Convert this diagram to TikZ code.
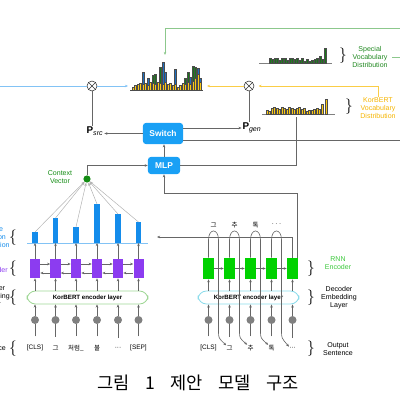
\documentclass[tikz,border=0pt]{standalone}
\usepackage{fontspec}
\setmainfont{Liberation Sans}
\newfontfamily\kr{Noto Sans CJK KR}
\usetikzlibrary{arrows.meta}

\definecolor{swblue}{RGB}{25,160,245}
\definecolor{attblue}{RGB}{20,140,235}
\definecolor{hblue}{RGB}{30,110,190}
\definecolor{hgreen}{RGB}{25,120,25}
\definecolor{vyellow}{RGB}{250,200,20}
\definecolor{vorange}{RGB}{245,180,0}
\definecolor{sgreen}{RGB}{30,135,30}
\definecolor{encpurple}{RGB}{140,60,240}
\definecolor{rnngreen}{RGB}{0,210,0}
\definecolor{lgreen}{RGB}{60,200,60}
\definecolor{layergreen}{RGB}{160,215,150}
\definecolor{layercyan}{RGB}{140,220,235}
\definecolor{topgreen}{RGB}{140,200,140}
\definecolor{lineblue}{RGB}{130,195,245}
\definecolor{lineyellow}{RGB}{250,205,70}
\definecolor{ctxgreen}{RGB}{20,140,20}

\tikzset{
  arr/.style={-{Stealth[length=2.2pt,width=1.8pt]}},
  ln/.style={draw=black!60, line width=0.45pt},
  lbl/.style={font=\fontsize{5}{5.7}\selectfont, align=center, inner sep=0pt},
  brc/.style={font=\fontsize{11}{11}\selectfont, inner sep=0pt},
  tok/.style={font=\fontsize{4.6}{5}\selectfont, inner sep=0pt},
  bluebox/.style={fill=swblue, rounded corners=2pt, text=white, font=\fontsize{6}{7}\selectfont\bfseries, inner sep=0pt},
  mul/.style={draw=black!80, circle, minimum size=0.25cm, inner sep=0pt, line width=0.4pt},
  encbox/.style={fill=encpurple, minimum width=0.25cm, minimum height=0.475cm, inner sep=0pt},
  decbox/.style={fill=rnngreen, minimum width=0.275cm, minimum height=0.525cm, inner sep=0pt},
  tokdot/.style={circle, fill=black!50, minimum size=0.2cm, inner sep=0pt},
  layer/.style={rounded corners=6pt, minimum height=0.325cm, line width=0.6pt, font=\fontsize{4.4}{5}\selectfont\bfseries, inner sep=0pt},
  bar/.style={draw=black!70, line width=0.15pt}
}
\newcommand\mulcross[1]{\draw[black!80, line width=0.4pt] (#1.45) -- (#1.225) (#1.135) -- (#1.315);}

\begin{document}
\begin{tikzpicture}[x=0.025cm, y=-0.025cm]
\clip (0,0) rectangle (400,400);

% mixed output distribution
\draw[black!70, line width=0.5pt] (130,90) -- (203,90);
\foreach \x/\t/\c in {143/72/hblue, 148/78/hblue, 153/75/hgreen, 155.5/74/hgreen, 160.5/67/hgreen, 163/62/hblue, 165.5/72/hblue, 175.5/69/hblue, 185.5/78/hgreen, 188/72/hgreen, 190.5/77/hblue, 193/66/hgreen, 195.5/67/hgreen, 198/68/hblue, 200.5/78/hblue}
  \filldraw[bar, fill=\c] (\x-1.1,90) rectangle (\x+1.1,\t);
\foreach \x/\h in {133/3, 135.5/5, 138/6, 140.5/7, 143/6, 145.5/7, 148/5, 150.5/8, 153/7, 155.5/6, 158/8, 160.5/7, 163/6, 165.5/8, 168/6, 170.5/7, 173/5, 175.5/6, 178/3, 180.5/5, 183/7, 185.5/6, 188/8, 190.5/6, 193/9, 195.5/12, 198/16, 200.5/8}
  \filldraw[bar, fill=vyellow] (\x-1.1,90) rectangle (\x+1.1,90-\h);
\coordinate (mixtop) at (165,55);
\coordinate (mixL) at (128,86);
\coordinate (mixR) at (207,86);

% special vocabulary distribution
\draw[black!50, line width=0.5pt] (259,63) -- (332,63);
\foreach \x/\h in {270/5, 272.5/4, 275/5, 277.5/5, 280/3, 282.5/5, 285/5, 287.5/3, 290/5, 292.5/5, 295/4, 297.5/5, 300/3, 302.5/5, 305/2, 307.5/4, 310/2, 312.5/3, 315/4, 317.5/5, 320/7, 322.5/4, 325/15}
  \filldraw[bar, fill=hgreen] (\x-1,63) rectangle (\x+1,63-\h);
\node[brc] (sbrc) at (343,56) {$\}$};
\node[lbl, text=sgreen] (slbl) at (370,57) {Special\\Vocabulary\\Distribution};

% KorBERT vocabulary distribution
\draw[black!50, line width=0.5pt] (262,114) -- (335,114);
\foreach \x/\h in {267/4, 269.5/3, 272/6, 274.5/7, 277/6, 279.5/5, 282/7, 284.5/6, 287/5, 289.5/7, 292/6, 294.5/5, 297/6, 299.5/7, 302/5, 304.5/6, 307/3, 309.5/4, 312/4, 314.5/5, 317/6, 319.5/5, 322/10, 326/15}
  \filldraw[bar, fill=vyellow] (\x-1,114) rectangle (\x+1,114-\h);
\node[brc] (kbrc) at (349,107) {$\}$};
\node[lbl, text=vorange] (klbl) at (378,108) {KorBERT\\Vocabulary\\Distribution};
\coordinate (kvbot) at (296,117);

\draw[topgreen, line width=0.6pt] ([xshift=3pt]slbl.east) -- (400,57);
\draw[topgreen, line width=0.6pt, arr] (400,28) -| (mixtop);

\node[mul] (mulA) at (92,86) {}; \mulcross{mulA}
\node[mul] (mulB) at (249,86) {}; \mulcross{mulB}
\draw[lineblue, line width=0.6pt] (0,86) -- (mulA.west);
\draw[lineblue, line width=0.6pt, arr] (mulA.east) -- (mixL);
\draw[lineyellow, line width=0.6pt, arr] (mulB.west) -- (mixR);
\draw[lineyellow, line width=0.6pt, arr, shorten >=3pt] (klbl.north) |- (mulB.east);

\node[font=\fontsize{7}{8}\selectfont, inner sep=0.5pt] (psrc) at (95,131) {$\mathbf{P}_{\mathit{src}}$};
\node[font=\fontsize{7}{8}\selectfont, inner sep=0.5pt] (pgen) at (252,128) {$\mathbf{P}_{\mathit{gen}}$};
\draw[ln] (mulA.south) -- (mulA.south |- psrc.north);
\draw[ln] (mulB.south) -- (mulB.south |- pgen.north);

\node[bluebox, minimum width=1cm, minimum height=0.525cm] (sw) at (163,133.5) {Switch};
\node[bluebox, minimum width=0.8cm, minimum height=0.425cm] (mlp) at (164,165.5) {MLP};
\draw[ln, arr] (sw.west) -- (sw.west -| psrc.east);
\draw[ln, arr] (sw.east |- pgen.west) -- (pgen.west);
\draw[ln] (sw.east |- 0,140) -- (400,140);
\draw[ln] (mlp.east) -| (kvbot);
\draw[ln, arr] (mlp.north) -- (mlp.north |- sw.south);

% attention side
\node[circle, fill=ctxgreen, minimum size=0.18cm, inner sep=0pt] (ctx) at (87,179) {};
\node[lbl, text=ctxgreen] (ctxlbl) at (60,177) {Context\\Vector};
\draw[ln, arr] (ctx.north) |- (mlp.west);

\draw[lineblue, line width=0.5pt] (27,243) -- (148,243);
\foreach \i/\x/\t in {1/35/232, 2/55.5/218, 3/76/227, 4/97/204, 5/118/214, 6/138.5/222} {
  \fill[attblue] (\x-2.7,242.5) rectangle (\x+2.7,\t);
  \coordinate (a\i) at (\x,\t);
  \draw[black!30, line width=0.35pt, arr] (a\i) -- (ctx);
  \node[encbox] (enc\i) at (\x,268.5) {};
  \node[tokdot] (in\i) at (\x,320) {};
  \draw[ln, arr] (enc\i.north) -- (\x,243);
}
\node[layer, draw=layergreen, minimum width=3.025cm] (encL) at (87.5,297.5) {KorBERT encoder layer};
\foreach \i/\j in {1/2, 2/3, 3/4, 4/5, 5/6} {
  \draw[ln, arr] ([yshift=3.2pt]enc\i.east) -- ([yshift=3.2pt]enc\j.west);
  \draw[ln, arr] ([yshift=-3.2pt]enc\j.west) -- ([yshift=-3.2pt]enc\i.east);
}
\foreach \i/\x/\w in {1/35/{[CLS]}, 2/55.5/{\kr 그}, 3/76/{\kr 처럼\_}, 4/97/{\kr 불}, 5/118/{···}, 6/138.5/{[SEP]}} {
  \node[tok] (it\i) at (\x,348) {\w};
  \draw[ln, shorten <=6pt] (it\i.north) -- (in\i.south);
  \draw[ln, arr] (in\i.north) -- (in\i |- encL.south);
  \draw[ln, arr] (encL.north -| enc\i) -- (enc\i.south);
}

% decoder side
\foreach \i/\x/\w in {1/208.5/{[CLS]}, 2/229.5/{\kr 그}, 3/250.5/{\kr 추}, 4/271.5/{\kr 톡}, 5/292.5/{···}} {
  \node[decbox] (dec\i) at (\x,268.5) {};
  \node[tokdot] (out\i) at (\x,320) {};
  \node[tok] (ot\i) at (\x,348) {\w};
  \draw[ln, shorten <=6pt] (ot\i.north) -- (out\i.south);
}
\node[layer, draw=layercyan, minimum width=2.525cm] (decL) at (248.5,297.5) {KorBERT encoder layer};
\foreach \i/\j in {1/2, 2/3, 3/4, 4/5}
  \draw[ln, arr] (dec\i.east) -- (dec\j.west);
\foreach \i in {1,...,5} {
  \draw[ln, arr] (out\i.north) -- (out\i |- decL.south);
  \draw[ln, arr] (decL.north -| dec\i) -- (dec\i.south);
}
\foreach \i/\j/\x/\w in {1/2/208.5/그, 2/3/229.5/추, 3/4/250.5/톡, 4/5/271.5/···} {
  \draw[ln, arr] (dec\i.north) -- (\x,240) .. controls (\x,228) and (\x+10,228) .. (\x+10,240) -- (\x+10,331) .. controls (\x+10,338) .. (ot\j.north west);
  \node[tok] (w\i) at (\x+5,225) {\kr \w};
}
\coordinate (attin) at (157,237);
\draw[ln, arr] (dec5.north) |- (attin);
\draw[ln, arr] ([xshift=-0.8pt]dec5.north east) |- (mlp.south |- 0,193) -- (mlp.south);

% braces and side labels
\node[brc] (lb1) at (13,237.5) {$\{$};
\node[lbl, text=attblue] (ll1) at (-8,237) {Source\\Attention\\Distribution};
\node[brc] (lb2) at (13,268.5) {$\{$};
\node[lbl, text=encpurple, anchor=east] (ll2) at (8,270) {Encoder};
\node[brc] (lb3) at (13,297.5) {$\{$};
\node[lbl] (ll3) at (-8,297) {Encoder\\Embedding\\Layer};
\node[brc] (lb4) at (13,349) {$\{$};
\node[lbl, anchor=east] (ll4) at (6,349) {Input Sentence};

\node[brc] (rb1) at (311,268.5) {$\}$};
\node[lbl, text=lgreen] (rl1) at (338,263) {RNN\\Encoder};
\node[brc] (rb2) at (311,297.5) {$\}$};
\node[lbl] (rl2) at (339,297.5) {Decoder\\Embedding\\Layer};
\node[brc] (rb3) at (311,349) {$\}$};
\node[lbl] (rl3) at (338,349) {Output\\Sentence};

\node[font=\kr\fontsize{12.5}{14}\selectfont, inner sep=0pt] (cap) at (198,383) {그림\hspace{11pt}1\hspace{11pt}제안\hspace{11pt}모델\hspace{11pt}구조};
\end{tikzpicture}
\end{document}
